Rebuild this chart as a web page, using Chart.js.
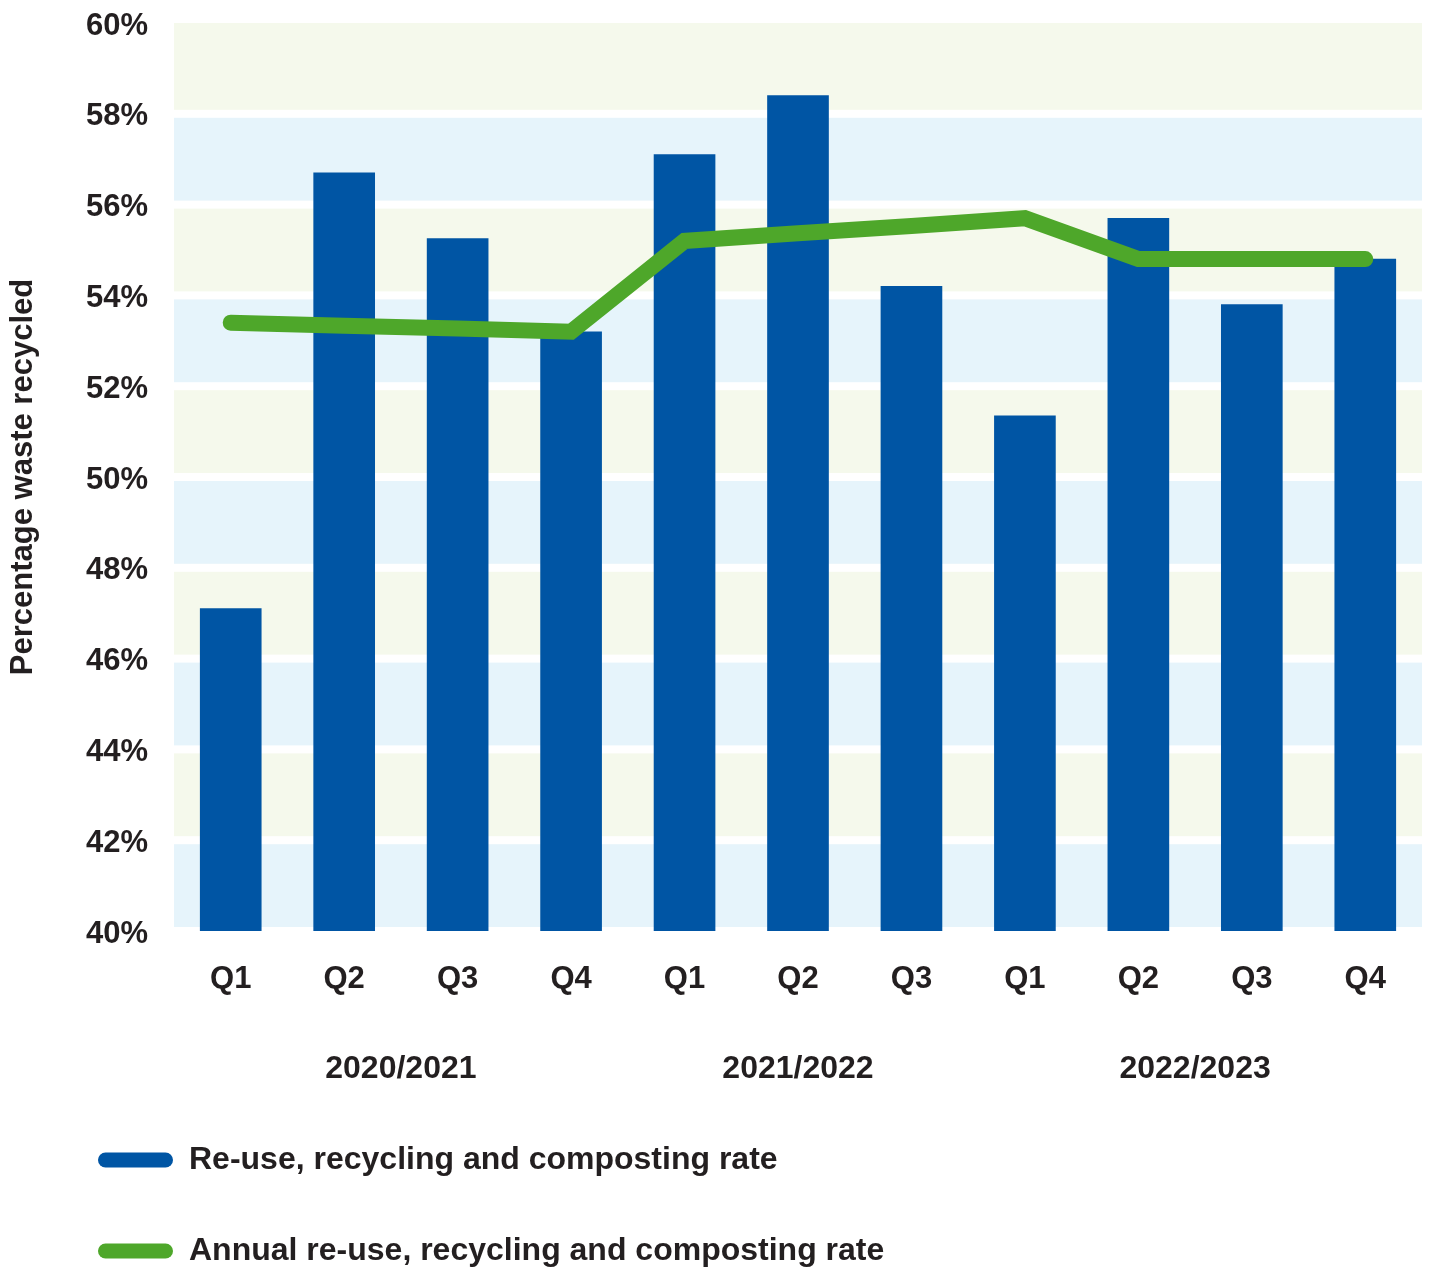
<!DOCTYPE html>
<html>
<head>
<meta charset="utf-8">
<script src="https://cdn.jsdelivr.net/npm/chart.js@4/dist/chart.umd.min.js"></script>
<style>
  body { margin: 0; background: #fff; }
  #wrap { width: 1429px; height: 1267px; position: relative; }
</style>
</head>
<body>
<div id="wrap"><canvas id="recycling-chart"></canvas></div>
<script>
// quarters along the x axis, and the financial year each one belongs to
var quarters = ['Q1', 'Q2', 'Q3', 'Q4', 'Q1', 'Q2', 'Q3', 'Q1', 'Q2', 'Q3', 'Q4'];
var quarterYear = ['2020/2021', '2020/2021', '2020/2021', '2020/2021',
                   '2021/2022', '2021/2022', '2021/2022',
                   '2022/2023', '2022/2023', '2022/2023', '2022/2023'];

// re-use, recycling and composting rate per quarter (%)
var quarterlyRate = [47.1, 56.7, 55.25, 53.2, 57.1, 58.4, 54.2, 51.35, 55.7, 53.8, 54.8];
// rolling annual rate (%)
var annualRate = [53.4, 53.33, 53.27, 53.2, 55.2, 55.37, 55.53, 55.7, 54.8, 54.8, 54.8];

var legendNames = ['Re-use, recycling and composting rate', 'Annual re-use, recycling and composting rate'];

var BLUE = '#0055a4';
var GREEN = '#4ea72a';
var TEXT = '#231f20';
var FONT = '"Liberation Sans", Arial, Helvetica, sans-serif';

Chart.defaults.font.family = FONT;
Chart.defaults.color = TEXT;

// striped background, one band per 2% step with a white gap on each tick
var bandPlugin = {
  id: 'bands',
  beforeDatasetsDraw: function(chart) {
    var ctx = chart.ctx, area = chart.chartArea, y = chart.scales.y;
    ctx.save();
    for (var v = y.min; v < y.max; v += 2) {
      var top = y.getPixelForValue(v + 2);
      var bottom = y.getPixelForValue(v);
      ctx.fillStyle = (v / 2) % 2 === 1 ? '#f5f9ec' : '#e6f4fb';
      ctx.fillRect(area.left, top, area.right - area.left, bottom - top);
    }
    ctx.fillStyle = '#ffffff';
    for (var v = y.min; v < y.max; v += 2) {
      var py = y.getPixelForValue(v);
      ctx.fillRect(area.left, py - 4, area.right - area.left, 8);
    }
    ctx.restore();
  }
};

// year names centred under their quarters, plus the legend at the bottom
var extrasPlugin = {
  id: 'extras',
  afterDraw: function(chart) {
    var ctx = chart.ctx, x = chart.scales.x;
    ctx.save();
    ctx.fillStyle = TEXT;
    ctx.font = 'bold 32px ' + FONT;
    ctx.textAlign = 'center';
    ctx.textBaseline = 'middle';
    var seen = [];
    for (var i = 0; i < quarterYear.length; i++) {
      var yr = quarterYear[i];
      if (seen.indexOf(yr) >= 0) continue;
      seen.push(yr);
      var first = quarterYear.indexOf(yr), last = quarterYear.lastIndexOf(yr);
      var cx = (x.getPixelForValue(first) + x.getPixelForValue(last)) / 2;
      ctx.fillText(yr, cx, 1069);
    }

    var colours = [BLUE, GREEN];
    var rows = [1160, 1251];
    ctx.textAlign = 'left';
    ctx.lineCap = 'round';
    ctx.lineWidth = 15;
    for (var j = 0; j < legendNames.length; j++) {
      ctx.strokeStyle = colours[j];
      ctx.beginPath();
      ctx.moveTo(105.5, rows[j]);
      ctx.lineTo(165.5, rows[j]);
      ctx.stroke();
      ctx.fillText(legendNames[j], 189, rows[j]);
    }
    ctx.restore();
  }
};

new Chart(document.getElementById('recycling-chart'), {
  type: 'bar',
  data: {
    labels: quarters,
    datasets: [
      {
        type: 'line',
        label: legendNames[1],
        data: annualRate,
        borderColor: GREEN,
        borderWidth: 16,
        borderCapStyle: 'round',
        borderJoinStyle: 'miter',
        pointRadius: 0,
        pointHoverRadius: 0,
        tension: 0,
        fill: false,
        order: 0
      },
      {
        label: legendNames[0],
        data: quarterlyRate,
        backgroundColor: BLUE,
        barThickness: 61,
        order: 1
      }
    ]
  },
  options: {
    responsive: true,
    maintainAspectRatio: false,
    animation: false,
    layout: { padding: { top: 23, right: 7, bottom: 0, left: 0 } },
    plugins: {
      legend: { display: false },
      tooltip: { enabled: false }
    },
    scales: {
      x: {
        grid: { display: false, drawTicks: false },
        border: { display: false },
        ticks: { font: { size: 31, weight: 'bold' }, color: TEXT, padding: 30 },
        afterFit: function(scale) { scale.height = 336; }
      },
      y: {
        min: 40,
        max: 60,
        grid: { display: false, drawTicks: false },
        border: { display: false },
        ticks: {
          stepSize: 2,
          padding: 26,
          labelOffset: 3,
          font: { size: 31, weight: 'bold' },
          color: TEXT,
          callback: function(v) { return v + '%'; }
        },
        title: {
          display: true,
          text: 'Percentage waste recycled',
          font: { size: 31, weight: 'bold' },
          color: TEXT,
          padding: { top: 5, bottom: 0 }
        },
        afterFit: function(scale) {
          scale.width = 174;
          // tick padding would otherwise push the plot down from the top
          scale.paddingTop = 0;
          scale.paddingBottom = 0;
        }
      }
    }
  },
  plugins: [bandPlugin, extrasPlugin]
});
</script>
</body>
</html>
